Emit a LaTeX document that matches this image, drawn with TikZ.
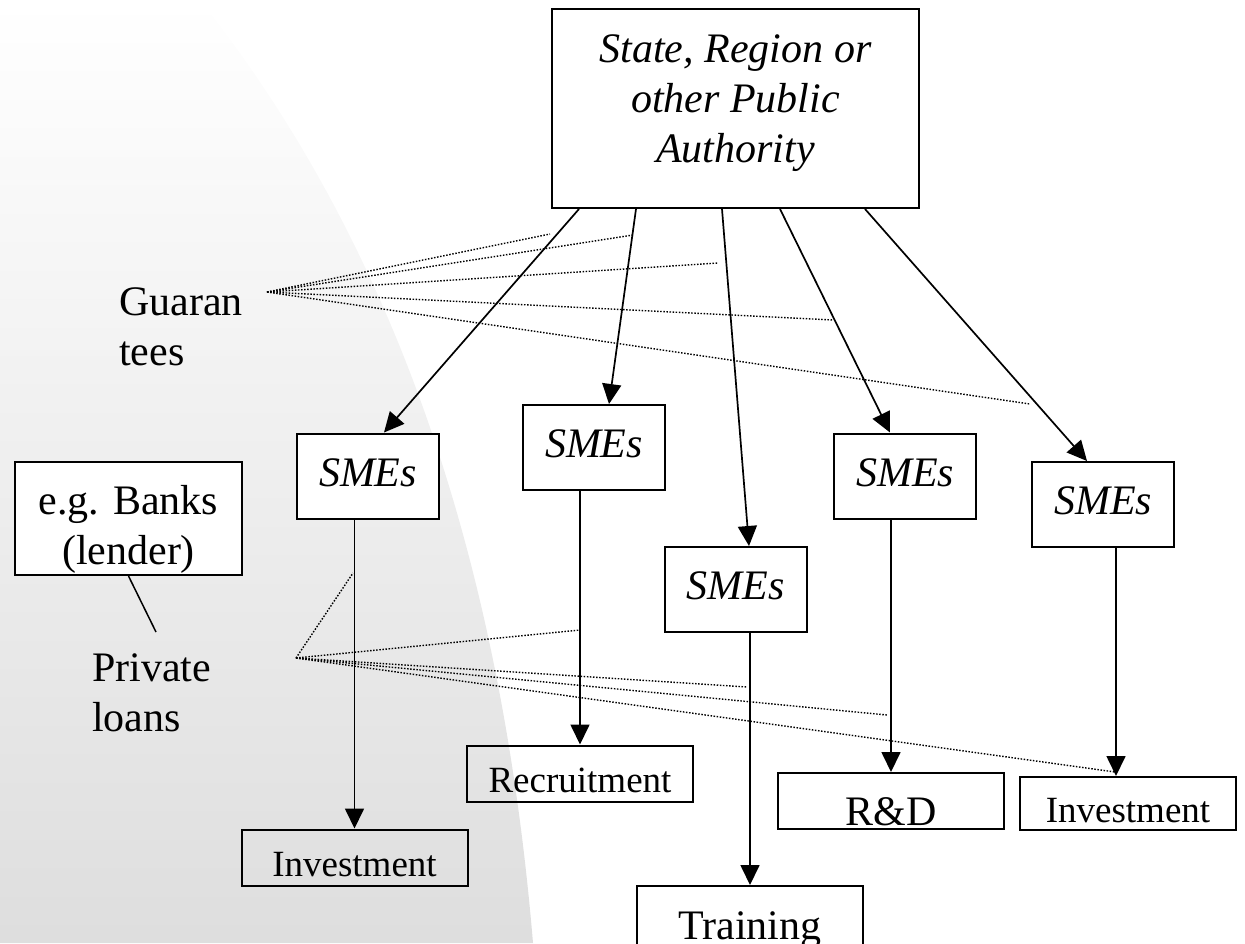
\documentclass[tikz,border=0pt]{standalone}
\usepackage{fontspec}
\setmainfont{Liberation Serif}
\usetikzlibrary{arrows.meta}

\begin{document}
\begin{tikzpicture}[x=1pt, y=-1pt,
    box/.style={draw, line width=2pt, inner sep=0pt},
    smebox/.style={box, fill=white, minimum width=142pt, minimum height=85pt, text height=28pt, text depth=8pt, font=\fontsize{42}{50}\selectfont\itshape},
    outbox/.style={box, minimum width=226pt, minimum height=56pt, text height=37pt, text depth=0pt, font=\fontsize{37}{44}\selectfont},
    note/.style={inner sep=0pt, align=left, anchor=north west, font=\fontsize{42}{50}\selectfont},
    flow/.style={-{Triangle[length=20pt, width=19pt]}, line width=1.7pt},
    link/.style={dash pattern=on 1.5pt off 1.6pt, line width=1.4pt}]

    \useasboundingbox (0,0) rectangle (1245,943);
    % grey slide background on the left
    \shade[top color=white, bottom color=black!13] (0,0) -- (200,0) .. controls (390,240) and (500,550) .. (533,943) -- (0,943) -- cycle;

    % the authority and the firms
    \node[box, fill=white, minimum width=367pt, minimum height=199pt,
          label={[align=center, yshift=5pt, font=\fontsize{42}{50}\selectfont\itshape]center:State, Region or\\other Public\\Authority}] (auth) at (735.5,108.5) {};
    \node[smebox] (sme1) at (368,476) {SMEs};
    \node[smebox] (sme2) at (594,447.5) {SMEs};
    \node[smebox] (sme3) at (735.5,589.5) {SMEs};
    \node[smebox] (sme4) at (905,476) {SMEs};
    \node[smebox] (sme5) at (1103,504.5) {SMEs};

    % what the money is spent on
    \node[outbox] (inv1) at (354.5,857.5) {Investment};
    \node[outbox] (recr) at (580,773.5) {Recruitment};
    \node[outbox, minimum height=60pt, text height=46pt, font=\fontsize{42}{50}\selectfont] (train) at (750,916) {Training};
    \node[outbox, text height=48pt, font=\fontsize{42}{50}\selectfont] (rnd) at (891,801) {R\&D};
    \node[outbox, minimum width=216pt, minimum height=53pt] (inv2) at (1128,803.5) {Investment};

    % lender and the two kinds of support
    \node[box, fill=white, minimum width=227pt, minimum height=113pt,
          label={[align=center, yshift=-11pt, font=\fontsize{42}{50}\selectfont]center:e.g. Banks\\(lender)}] (banks) at (128.5,518.5) {};
    \node[note] (guar) at (119,287) {Guaran\\tees};
    \node[note] (loans) at (92,653) {Private\\loans};
    \coordinate (lk) at (156,632);
    \draw[line width=1.5pt] (banks.south) -- (lk);

    % dotted pointers
    \coordinate (g0) at (267,292);
    \coordinate (g1) at (550,234);
    \coordinate (g2) at (633,235);
    \coordinate (g3) at (718,263);
    \coordinate (g4) at (833,320);
    \coordinate (g5) at (1030,404);
    \coordinate (p0) at (296,658);
    \coordinate (p1) at (353,573);
    \coordinate (p2) at (580,630);
    \coordinate (p3) at (747,687);
    \coordinate (p4) at (887,715);
    \coordinate (p5) at (1115,772);
    \foreach \i in {1,...,5}
        \draw[link] (g0) -- (g\i) (p0) -- (p\i);

    % money flows
    \path[flow]
    ([xshift=-156.5pt]auth.south) edge ([xshift=16pt]sme1.north)
    ([xshift=-99.5pt]auth.south) edge ([xshift=15pt]sme2.north)
    ([xshift=-13.5pt]auth.south) edge ([xshift=13.5pt]sme3.north)
    ([xshift=44.5pt]auth.south) edge ([xshift=-15pt]sme4.north)
    ([xshift=129.5pt]auth.south) edge ([xshift=-16pt]sme5.north)
    (sme1.south -| inv1) edge (inv1)
    (sme2.south -| recr) edge (recr)
    (sme3.south -| train) edge (train)
    (sme4.south -| rnd) edge (rnd)
    ([xshift=13pt]sme5.south) edge ([xshift=-12pt]inv2.north);
\end{tikzpicture}
\end{document}
